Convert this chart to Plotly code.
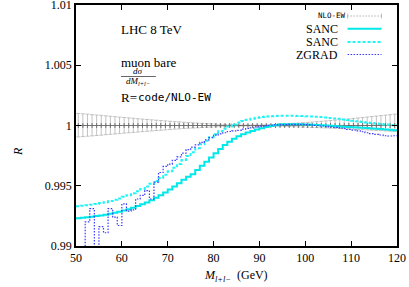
import plotly.graph_objects as go

# ---------------- data ----------------
bin_edges = list(range(50, 121))            # 1 GeV bins, 50..120
bin_centers = [e + 0.5 for e in range(50, 120)]

sanc_solid = [
    0.99230, 0.99234, 0.99238, 0.99243, 0.99248, 0.99254, 0.99260, 0.99267, 0.99275, 0.99284,
    0.99294, 0.99305, 0.99317, 0.99331, 0.99346, 0.99362, 0.99380, 0.99400, 0.99421, 0.99444,
    0.99468, 0.99494, 0.99521, 0.99549, 0.99575, 0.99595, 0.99630, 0.99665, 0.99700, 0.99735,
    0.99770, 0.99805, 0.99838, 0.99866, 0.99890, 0.99910, 0.99927, 0.99942, 0.99955, 0.99967,
    0.99977, 0.99987, 0.99996, 1.00003, 1.00008, 1.00010, 1.00011, 1.00011, 1.00010, 1.00009,
    1.00008, 1.00006, 1.00004, 1.00002, 1.00000, 0.99998, 0.99995, 0.99992, 0.99990, 0.99988,
    0.99986, 0.99984, 0.99982, 0.99979, 0.99976, 0.99973, 0.99970, 0.99967, 0.99964, 0.99961,
]

sanc_dashed = [
    0.99330, 0.99334, 0.99338, 0.99343, 0.99349, 0.99356, 0.99364, 0.99373, 0.99383, 0.99395,
    0.99408, 0.99422, 0.99438, 0.99455, 0.99474, 0.99494, 0.99516, 0.99540, 0.99565, 0.99592,
    0.99620, 0.99650, 0.99681, 0.99713, 0.99746, 0.99779, 0.99812, 0.99844, 0.99874, 0.99902,
    0.99928, 0.99952, 0.99973, 0.99992, 1.00009, 1.00024, 1.00037, 1.00048, 1.00057, 1.00064,
    1.00070, 1.00074, 1.00077, 1.00079, 1.00080, 1.00080, 1.00080, 1.00080, 1.00079, 1.00078,
    1.00077, 1.00075, 1.00073, 1.00070, 1.00067, 1.00063, 1.00059, 1.00055, 1.00050, 1.00045,
    1.00040, 1.00035, 1.00030, 1.00025, 1.00020, 1.00016, 1.00012, 1.00008, 1.00005, 1.00002,
]

zgrad = [
    0.98850, 0.98850, 0.99200, 0.99310, 0.98850, 0.99160, 0.99110, 0.99310, 0.99240, 0.99170,
    0.99350, 0.99290, 0.99300, 0.99390, 0.99420, 0.99460, 0.99390, 0.99530, 0.99610, 0.99660,
    0.99680, 0.99710, 0.99740, 0.99770, 0.99800, 0.99820, 0.99840, 0.99860, 0.99880, 0.99900,
    0.99920, 0.99930, 0.99940, 0.99950, 0.99955, 0.99960, 0.99970, 0.99975, 0.99980, 0.99988,
    0.99994, 0.99998, 1.00002, 1.00005, 1.00007, 1.00008, 1.00009, 1.00010, 1.00010, 1.00009,
    1.00007, 1.00004, 1.00000, 0.99996, 0.99992, 0.99988, 0.99984, 0.99980, 0.99975, 0.99968,
    0.99962, 0.99955, 0.99948, 0.99940, 0.99933, 0.99927, 0.99921, 0.99915, 0.99913, 0.99915,
]

nlo_ratio = [
    1.0, 1.0, 1.0, 1.0, 1.0, 1.0, 1.0, 1.0, 1.0, 1.0,
    1.0, 1.0, 1.0, 1.0, 1.0, 1.0, 1.0, 1.0, 1.0, 1.0,
    1.0, 1.0, 1.0, 1.0, 1.0, 1.0, 1.0, 1.0, 1.0, 1.0,
    1.0, 1.0, 1.0, 1.0, 1.0, 1.0, 1.0, 1.0, 1.0, 1.0,
    1.0, 1.0, 1.0, 1.0, 1.0, 1.0, 1.0, 1.0, 1.0, 1.0,
    1.0, 1.0, 1.0, 1.0, 1.0, 1.0, 1.0, 1.0, 1.0, 1.0,
    1.0, 1.0, 1.0, 1.0, 1.0, 1.0, 1.0, 1.0, 1.0, 1.0,
]

nlo_err_plus = [
    0.00100, 0.00097, 0.00094, 0.00090, 0.00087, 0.00084, 0.00080, 0.00077, 0.00073, 0.00070,
    0.00066, 0.00063, 0.00060, 0.00056, 0.00053, 0.00050, 0.00047, 0.00044, 0.00041, 0.00038,
    0.00035, 0.00032, 0.00030, 0.00027, 0.00025, 0.00022, 0.00020, 0.00018, 0.00016, 0.00014,
    0.00012, 0.00010, 0.00009, 0.00007, 0.00006, 0.00005, 0.00004, 0.00004, 0.00004, 0.00004,
    0.00005, 0.00006, 0.00007, 0.00009, 0.00011, 0.00013, 0.00015, 0.00018, 0.00020, 0.00023,
    0.00026, 0.00029, 0.00032, 0.00035, 0.00038, 0.00042, 0.00045, 0.00048, 0.00052, 0.00055,
    0.00059, 0.00062, 0.00066, 0.00070, 0.00074, 0.00078, 0.00082, 0.00086, 0.00090, 0.00094,
]

nlo_err_minus = [
    0.00095, 0.00092, 0.00089, 0.00086, 0.00083, 0.00080, 0.00076, 0.00073, 0.00070, 0.00067,
    0.00063, 0.00060, 0.00057, 0.00054, 0.00051, 0.00048, 0.00045, 0.00042, 0.00039, 0.00036,
    0.00033, 0.00030, 0.00028, 0.00025, 0.00023, 0.00021, 0.00019, 0.00017, 0.00015, 0.00013,
    0.00011, 0.00010, 0.00008, 0.00007, 0.00006, 0.00005, 0.00004, 0.00004, 0.00004, 0.00004,
    0.00004, 0.00005, 0.00005, 0.00006, 0.00007, 0.00008, 0.00009, 0.00010, 0.00011, 0.00013,
    0.00014, 0.00016, 0.00017, 0.00019, 0.00020, 0.00022, 0.00024, 0.00025, 0.00027, 0.00029,
    0.00031, 0.00033, 0.00035, 0.00037, 0.00039, 0.00041, 0.00043, 0.00045, 0.00047, 0.00049,
]

x_ticks = [50, 60, 70, 80, 90, 100, 110, 120]
y_ticks = [0.99, 0.995, 1.0, 1.005, 1.01]
y_tick_labels = ["0.99", "0.995", "1", "1.005", "1.01"]

# ---------------- style ----------------
SERIF = "Liberation Serif"
MONO = "DejaVu Sans Mono"
CYAN = "#00e8e8"
CYAN2 = "#22f4f4"
BLUE = "#3a3aff"
GRAY = "#8a8a8a"

W, H = 409, 287
L, R, T, B = 76, 11.5, 5, 41
PW, PH = W - L - R, H - T - B


def px(xp):
    return (xp - L) / PW


def py(yp):
    return (H - B - yp) / PH


def step_y(vals):
    return vals + [vals[-1]]


fig = go.Figure()

# NLO-EW reference with error bars
fig.add_trace(go.Scatter(
    x=bin_centers, y=nlo_ratio, mode="lines+markers",
    line=dict(color=GRAY, width=0.8, dash="1px,2px"),
    marker=dict(symbol="cross-thin", size=3.5, color="#666666", line=dict(width=0.9, color="#666666")),
    error_y=dict(type="data", symmetric=False, array=nlo_err_plus, arrayminus=nlo_err_minus,
                 color="#b4b4b4", thickness=0.8, width=2),
    showlegend=False,
))

fig.add_trace(go.Scatter(
    x=bin_edges, y=step_y(sanc_solid), mode="lines", line_shape="hv",
    line=dict(color=CYAN, width=2), showlegend=False,
))
fig.add_trace(go.Scatter(
    x=bin_edges, y=step_y(sanc_dashed), mode="lines", line_shape="hv",
    line=dict(color=CYAN2, width=2, dash="3px,2px"), showlegend=False,
))
fig.add_trace(go.Scatter(
    x=bin_edges, y=step_y(zgrad), mode="lines", line_shape="hv",
    line=dict(color=BLUE, width=1.2, dash="1.5px,1.5px"), showlegend=False,
))

annotations = []
shapes = []


def text(xp, yp, s, size=12, family=SERIF, anchor="left", color="black"):
    annotations.append(dict(
        x=px(xp), y=py(yp), xref="paper", yref="paper", text=s, showarrow=False,
        xanchor=anchor, yanchor="middle", borderpad=0,
        font=dict(family=family, size=size, color=color),
    ))


# in-plot labels
text(120, 30, "LHC 8 TeV", size=13)
text(120, 62, "muon bare", size=13)
text(138, 71, "<i>dσ</i>", size=9, anchor="center")
shapes.append(dict(type="line", xref="paper", yref="paper", x0=px(121), x1=px(156),
                   y0=py(76.5), y1=py(76.5), line=dict(color="black", width=0.6)))
text(138.5, 81.5, "<i>dM</i><sub><i>l+l−</i></sub>", size=9, anchor="center")
text(120, 97, "R=", size=13)
text(137, 97, "code/NLO-EW", size=11, family=MONO)

# legend (gnuplot style: text right, sample to the right)
LX0, LX1 = 348, 382
text(347, 16, "NLO-EW", size=7.5, family=MONO, anchor="right")
text(339, 29, "SANC", anchor="right")
text(339, 42, "SANC", anchor="right")
text(339, 55, "ZGRAD", anchor="right")
shapes.append(dict(type="line", xref="paper", yref="paper", x0=px(LX0), x1=px(LX1),
                   y0=py(16), y1=py(16), line=dict(color=GRAY, width=1, dash="1px,2px")))
for xe in (LX0, LX1):
    shapes.append(dict(type="line", xref="paper", yref="paper", x0=px(xe), x1=px(xe),
                       y0=py(13.5), y1=py(18.5), line=dict(color="#b4b4b4", width=0.8)))
shapes.append(dict(type="line", xref="paper", yref="paper", x0=px(LX0), x1=px(LX1),
                   y0=py(28.7), y1=py(28.7), line=dict(color=CYAN, width=2)))
shapes.append(dict(type="line", xref="paper", yref="paper", x0=px(LX0), x1=px(LX1),
                   y0=py(42), y1=py(42), line=dict(color=CYAN2, width=2, dash="3px,2px")))
shapes.append(dict(type="line", xref="paper", yref="paper", x0=px(LX0), x1=px(LX1),
                   y0=py(54.5), y1=py(54.5), line=dict(color=BLUE, width=1.2, dash="1.5px,1.5px")))

# axis titles
text(18, 152, "<i>R</i>", size=12, anchor="center")
annotations[-1]["textangle"] = -90
text(236, 276, "<i>M</i><sub><i>l+l−</i></sub>  (GeV)", size=12, anchor="center")

fig.update_layout(
    width=W, height=H,
    margin=dict(l=L, r=R, t=T, b=B, autoexpand=False),
    paper_bgcolor="white", plot_bgcolor="white",
    annotations=annotations, shapes=shapes,
    font=dict(family=SERIF, size=12, color="black"),
    showlegend=False,
)
fig.update_xaxes(
    range=[50, 120], tickvals=x_ticks, ticks="inside", ticklen=5, tickwidth=1,
    tickcolor="black", showline=True, linecolor="black", linewidth=1.5, mirror="ticks",
    showgrid=False, zeroline=False, tickfont=dict(family=SERIF, size=12), automargin=False,
    ticklabeloverflow="allow",
)
fig.update_yaxes(
    range=[0.99, 1.01], tickvals=y_ticks, ticktext=y_tick_labels, ticks="inside",
    ticklen=5, tickwidth=1, tickcolor="black", showline=True, linecolor="black",
    linewidth=1.5, mirror="ticks", showgrid=False, zeroline=False,
    tickfont=dict(family=SERIF, size=12), automargin=False, ticklabeloverflow="allow",
)

fig.write_html(
    "out.html",
    config={"displayModeBar": False, "responsive": False},
    post_script="document.body.style.margin='0';document.body.style.padding='0';",
)
